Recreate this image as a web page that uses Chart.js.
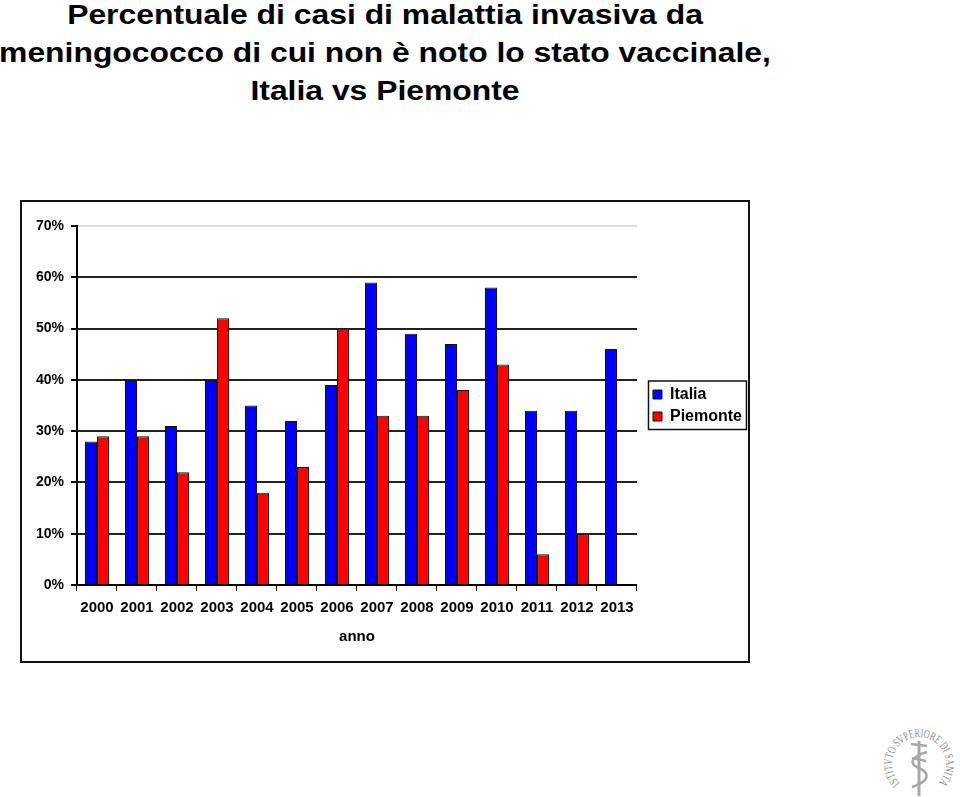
<!DOCTYPE html>
<html lang="it">
<head>
<meta charset="UTF-8">
<title>Meningococco - Italia vs Piemonte</title>
<script src="https://cdn.jsdelivr.net/npm/chart.js"></script>
<style>
    body { margin: 0; background: #fff; width: 960px; height: 797px; overflow: hidden; position: relative;
           font-family: "Liberation Sans", Arial, sans-serif; }
    .title { position: absolute; left: 0; top: -4px; width: 770px; text-align: center; font-weight: bold;
             font-size: 27px; line-height: 38px; transform: scaleX(1.18); transform-origin: 385px 0;
             white-space: nowrap; color: #000; }
    .box { position: absolute; left: 20px; top: 200px; width: 726px; height: 459px; border: 2px solid #111; }
    canvas { display: block; }
    .logo { position: absolute; left: 870px; top: 715px; }
</style>
</head>
<body>
    <div class="title">Percentuale di casi di malattia invasiva da<br>meningococco di cui non è noto lo stato vaccinale,<br>Italia vs Piemonte</div>
    <div class="box"><canvas id="chart" width="726" height="459"></canvas></div>

    <svg class="logo" width="90" height="82" viewBox="870 715 90 82">
        <defs>
            <path id="ring" d="M 899.9 783.1 A 27 27 0 1 1 938.1 783.1"></path>
        </defs>
        <text font-family="Liberation Serif, serif" font-size="12" fill="#8a8a8a">
            <textPath href="#ring" textLength="126" lengthAdjust="spacingAndGlyphs">ISTITVTO SVPERIORE DI SANITA</textPath>
        </text>
        <line x1="919" y1="741" x2="919" y2="796" stroke="#a8a8a8" stroke-width="3"></line>
        <path d="M 911 744 L 927 746 M 927 752 C 910 757, 909 764, 919 768 C 930 773, 930 781, 912 787 M 912 758 L 926 761"
              fill="none" stroke="#a8a8a8" stroke-width="2.5"></path>
    </svg>

<script>
// dati (percentuali)
const anni = ["2000", "2001", "2002", "2003", "2004", "2005", "2006", "2007", "2008", "2009", "2010", "2011", "2012", "2013"];
const italia = [28, 40, 31, 40, 35, 32, 39, 59, 49, 47, 58, 34, 34, 46];
const piemonte = [29, 29, 22, 52, 18, 23, 50, 33, 33, 38, 43, 6, 10, null];
const yTicks = [0, 10, 20, 30, 40, 50, 60, 70];

const fontFamily = "'Liberation Sans', Arial, sans-serif";
const tickFont = { family: fontFamily, size: 14, weight: "bold" };
const xFont = { family: fontFamily, size: 15, weight: "bold" };
const legendFont = { family: fontFamily, size: 16, weight: "bold" };

// legend sits a bit right of the plot and gets a frame, like the original
const legendFrame = {
    id: "legendFrame",
    afterLayout(chart) {
        const lg = chart.legend;
        const shift = chart.chartArea.right + 10 - lg.left;
        lg.left += shift;
        lg.right += shift;
    },
    afterDraw(chart) {
        const lg = chart.legend;
        const hb = lg.legendHitBoxes;
        if (!hb.length) return;
        const ctx = chart.ctx;
        const top = hb[0].top - 5.5;
        const bottom = hb[hb.length - 1].top + hb[hb.length - 1].height + 5;
        ctx.save();
        ctx.strokeStyle = "#111";
        ctx.lineWidth = 1.5;
        ctx.strokeRect(chart.chartArea.right + 11.5, top, 98, bottom - top);
        ctx.restore();
    }
};

new Chart(document.getElementById("chart"), {
    type: "bar",
    data: {
        labels: anni,
        datasets: [
            { label: "Italia", data: italia, backgroundColor: "#0000ff", borderColor: "#111", borderWidth: 1 },
            { label: "Piemonte", data: piemonte, backgroundColor: "#ff0000", borderColor: "#111", borderWidth: 1 }
        ]
    },
    options: {
        responsive: false,
        animation: false,
        devicePixelRatio: 1,
        layout: { padding: { top: 24, right: 6, left: 0, bottom: 0 } },
        datasets: { bar: { categoryPercentage: 0.6, barPercentage: 1.0 } },
        scales: {
            x: {
                afterFit: s => { s.height = 76; },
                grid: { offset: true, drawOnChartArea: false, tickLength: 6, color: "#000", lineWidth: 1 },
                border: { color: "#000", width: 2 },
                ticks: { color: "#000", font: xFont, padding: 8, maxRotation: 0, autoSkip: false },
                title: { display: true, text: "anno", color: "#000", font: xFont, padding: { top: 0, bottom: 15 } }
            },
            y: {
                min: 0,
                max: 70,
                afterFit: s => { s.width = 55; },
                afterBuildTicks: s => { s.ticks = yTicks.map(v => ({ value: v })); },
                grid: {
                    color: c => (c.tick && c.tick.value === 70 ? "#dedede" : "#222"),
                    lineWidth: 2,
                    tickLength: 6,
                    tickColor: "#000"
                },
                border: { color: "#000", width: 2 },
                ticks: { color: "#000", font: tickFont, padding: 7, callback: v => v + "%" }
            }
        },
        plugins: {
            legend: {
                position: "right",
                fullSize: false,
                labels: { color: "#000", font: legendFont, boxWidth: 9, boxHeight: 9, padding: 6 }
            },
            tooltip: { enabled: false },
            title: { display: false }
        }
    },
    plugins: [legendFrame]
});
</script>
</body>
</html>
